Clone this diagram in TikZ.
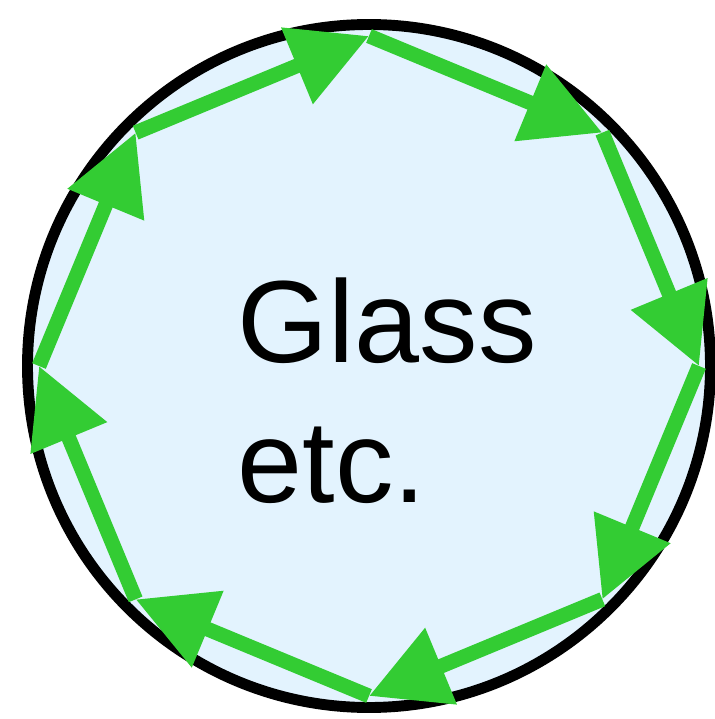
\documentclass[tikz,border=0pt]{standalone}
\usepackage{fontspec}
\setmainfont{Liberation Sans}
\usepackage{tikz}
\usetikzlibrary{arrows.meta,calc,positioning}
\definecolor{glassblue}{RGB}{227,243,254}
\definecolor{flowgreen}{RGB}{51,204,51}
\tikzset{
  vessel/.style={draw=black, line width=6.2pt, fill=glassblue},
  flow/.style={draw=flowgreen, line width=8.4pt, -{Triangle[length=1.56cm,width=1.58cm]}}
}

\begin{document}
\begin{tikzpicture}
    % Frame (715 x 719 px at 0.02 cm per px)
    \useasboundingbox (-7.38,-7.06) rectangle (6.92,7.32);

    % Glass body
    \draw[vessel] (0,0) circle (6.83);

    % Corners of the octagon
    \foreach \i in {0,...,7} \coordinate (v\i) at ({90-45*\i}:6.6);

    % Green arrows, clockwise
    \foreach \i in {0,...,7} {
        \pgfmathtruncatemacro{\j}{mod(\i+1,8)}
        \draw[flow] (v\i) -- (v\j);
    }

    % Label
    \node[anchor=north west, align=left, inner sep=0pt,
          font=\fontsize{66.5}{79.7}\selectfont] (glass) at (-2.63,1.78) {Glass\\etc.};

\end{tikzpicture}
\end{document}
